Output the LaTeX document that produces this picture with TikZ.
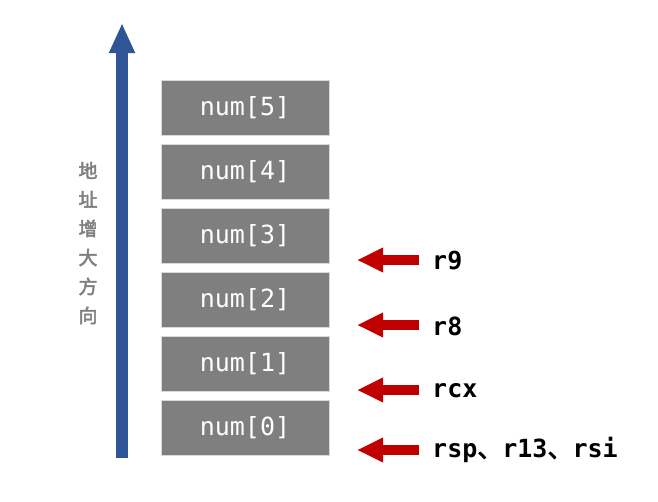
\documentclass[tikz,border=0pt]{standalone}
\usepackage{fontspec}
\setmonofont{DejaVu Sans Mono}
\newfontfamily\cjk{Noto Sans CJK SC}[AutoFakeBold=2.5]
\usetikzlibrary{arrows.meta}
\definecolor{boxgray}{HTML}{7F7F7F}
\definecolor{edgegray}{HTML}{D9D9D9}
\definecolor{axisblue}{HTML}{2F5597}
\definecolor{ptrred}{HTML}{C00000}
\tikzset{
  cell/.style={rectangle, fill=boxgray, draw=edgegray, line width=0.8pt,
    minimum width=168pt, minimum height=55pt, inner sep=0pt,
    text=white, font=\ttfamily\fontsize{25}{25}\selectfont},
  reglabel/.style={anchor=west, inner sep=0pt, text=black,
    font=\ttfamily\bfseries\fontsize{25}{25}\selectfont},
  ptr/.style={draw=ptrred, line width=10pt,
    -{Triangle[width=23pt,length=26pt]}, color=ptrred},
}
\begin{document}
\begin{tikzpicture}[x=1pt,y=-1pt]
\useasboundingbox (0,0) rectangle (658,501);
% cells
\node[cell] (n5) at (245,107.5) {num[5]};
\node[cell] (n4) at (245,171.5) {num[4]};
\node[cell] (n3) at (245,235.5) {num[3]};
\node[cell] (n2) at (245,299.5) {num[2]};
\node[cell] (n1) at (245,363.5) {num[1]};
\node[cell] (n0) at (245,427.5) {num[0]};
% address axis
\coordinate (ab) at (122,458);
\coordinate (at) at (122,23);
\draw[draw=axisblue, line width=12pt, -{Triangle[width=24pt,length=30pt]}, color=axisblue] (ab) -- (at);
\node[text=boxgray, font=\cjk\bfseries\fontsize{19}{29}\selectfont, align=center, inner sep=0pt] (lab) at (88,243)
  {地\\址\\增\\大\\方\\向};
% register pointers
\node[reglabel] (r9) at (432,261) {r9};
\node[reglabel] (r8) at (432,326) {r8};
\node[reglabel] (rcx) at (432,391) {rcx};
\node[reglabel] (rsp) at (432,450) {rsp{\cjk 、}r13{\cjk 、}rsi};
\coordinate (s9) at (419,260);
\coordinate (s8) at (419,325);
\coordinate (scx) at (419,390);
\coordinate (ssp) at (419,450);
\coordinate (t9) at (357,260);
\coordinate (t8) at (357,325);
\coordinate (tcx) at (357,390);
\coordinate (tsp) at (357,450);
\draw[ptr] (s9) -- (t9);
\draw[ptr] (s8) -- (t8);
\draw[ptr] (scx) -- (tcx);
\draw[ptr] (ssp) -- (tsp);
\end{tikzpicture}
\end{document}
